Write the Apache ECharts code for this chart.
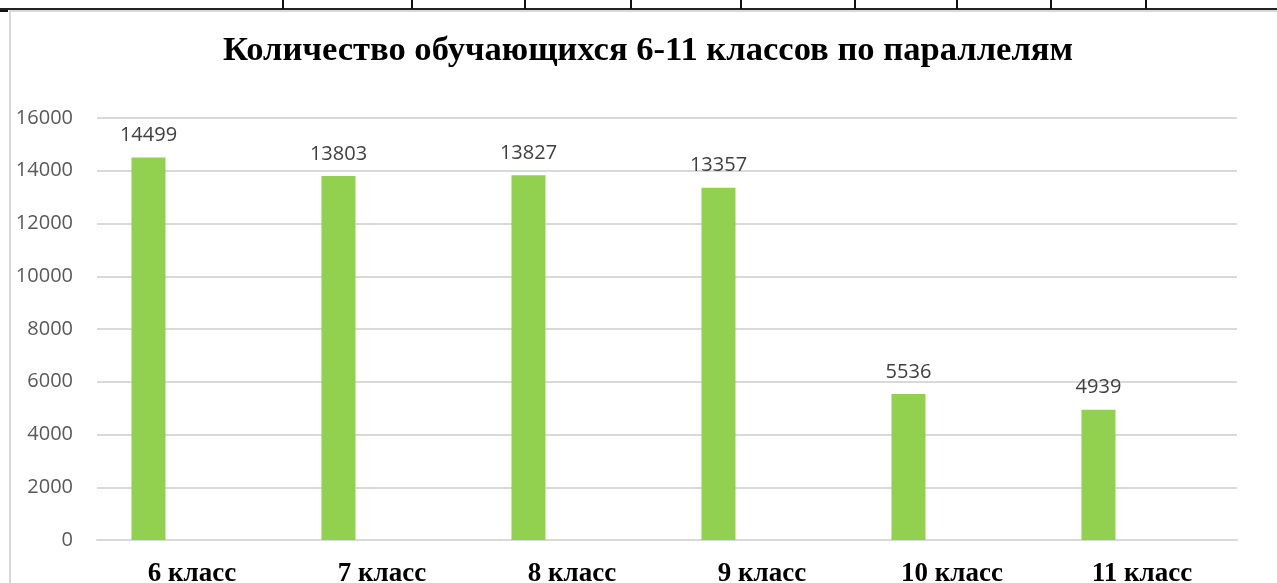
<!DOCTYPE html>
<html><head><meta charset="utf-8">
<script src="https://cdn.jsdelivr.net/npm/echarts@6/dist/echarts.min.js"></script>
<style>html,body{margin:0;padding:0;background:#fff}#c{width:1277px;height:583px}</style>
</head><body><div id="c"></div>
<script>
const titleText = 'Количество обучающихся 6-11 классов по параллелям';
const categories = ['6 класс','7 класс','8 класс','9 класс','10 класс','11 класс'];
const students = [14499, 13803, 13827, 13357, 5536, 4939];
const emptySeries = [];
const yTicks = {min: 0, max: 16000, interval: 2000};
const tableTicksX = [283, 412, 525, 631, 741, 855, 957, 1051, 1146];

const chart = echarts.init(document.getElementById('c'), null, {renderer: 'canvas'});
const graphics = [
  {type: 'rect', shape: {x: 0, y: 8, width: 1277, height: 2}, style: {fill: '#222'}, silent: true},
  {type: 'rect', shape: {x: 0, y: 10, width: 8, height: 2}, style: {fill: '#111'}, silent: true},
  {type: 'rect', shape: {x: 9, y: 10, width: 1268, height: 2}, style: {fill: '#d9d9d9'}, silent: true},
  {type: 'rect', shape: {x: 9, y: 10, width: 2, height: 573}, style: {fill: '#d9d9d9'}, silent: true}
];
tableTicksX.forEach(x => graphics.push({type: 'rect', shape: {x: x - 1, y: 0, width: 2, height: 9}, style: {fill: '#111'}, silent: true}));

chart.setOption({
  animation: false,
  backgroundColor: '#fff',
  title: {
    text: titleText, left: 643, top: 29, textAlign: 'center',
    textStyle: {fontFamily: 'Liberation Serif', fontWeight: 'bold', fontSize: 34.6, color: '#000'}
  },
  graphic: graphics,
  grid: {left: 97, right: 40, top: 118, bottom: 43, containLabel: false, outerBoundsMode: 'none'},
  xAxis: {
    type: 'category', data: categories,
    axisLine: {show: true, lineStyle: {color: '#d9d9d9', width: 2}},
    axisTick: {show: false},
    axisLabel: {margin: 21, fontFamily: 'Liberation Serif', fontWeight: 'bold', fontSize: 27, color: '#000'}
  },
  yAxis: {
    type: 'value', min: yTicks.min, max: yTicks.max, interval: yTicks.interval,
    axisLine: {show: false}, axisTick: {show: false},
    splitLine: {lineStyle: {color: '#d9d9d9', width: 2}},
    axisLabel: {margin: 24, fontFamily: 'Open Sans', fontSize: 20, color: '#595959', formatter: v => String(v)}
  },
  series: [
    {
      type: 'bar', name: 'students', data: students, barWidth: 34, barGap: '156%',
      itemStyle: {color: '#92d050'},
      label: {show: true, position: 'top', distance: 12, fontFamily: 'Open Sans', fontSize: 20, color: '#404040'}
    },
    {type: 'bar', name: 'empty', data: emptySeries, barWidth: 34, itemStyle: {color: '#92d050'}}
  ]
});
</script></body></html>
